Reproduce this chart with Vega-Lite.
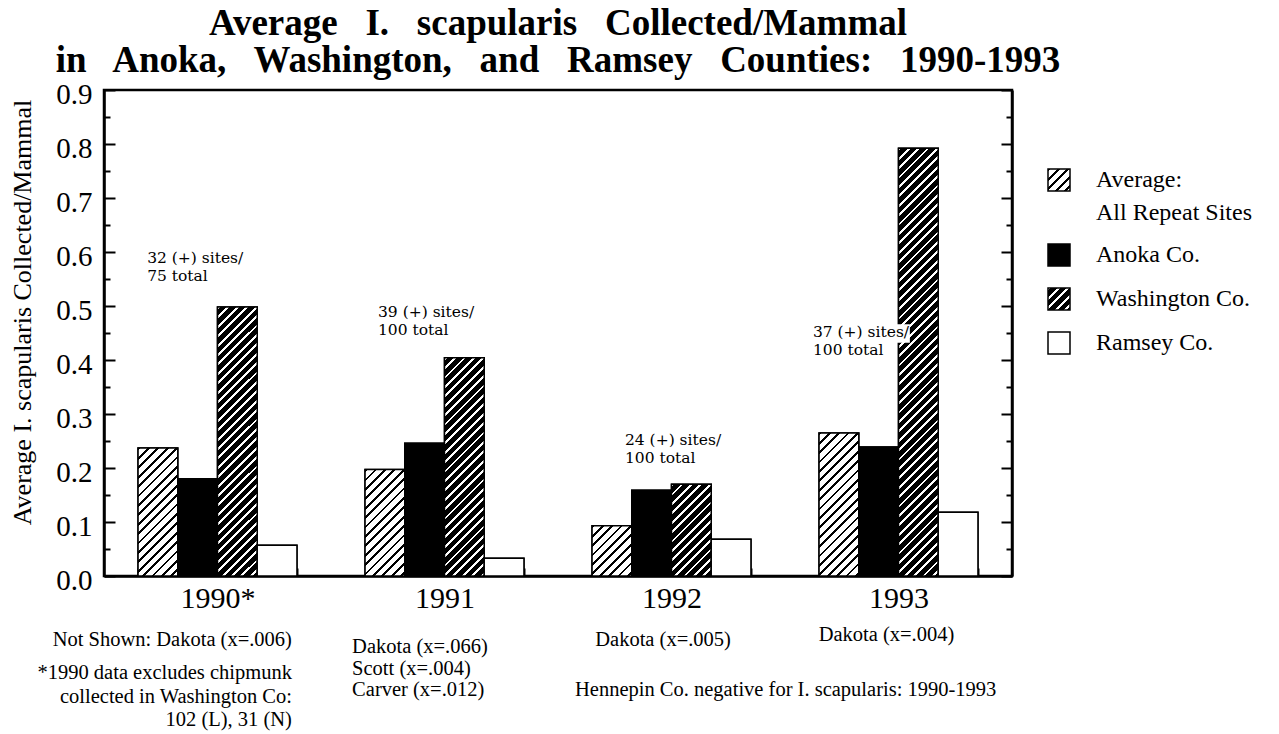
{
"$schema": "https://vega.github.io/schema/vega-lite/v6.json",
"width": 908,
"height": 486,
"autosize": {"type": "none"},
"padding": {"left": 104, "top": 90, "right": 267, "bottom": 158},
"background": "#ffffff",
"title": {"text": ["Average\u00a0\u00a0 I.\u00a0\u00a0 scapularis\u00a0\u00a0 Collected/Mammal", "in\u00a0\u00a0 Anoka,\u00a0\u00a0 Washington,\u00a0\u00a0 and\u00a0\u00a0 Ramsey\u00a0\u00a0 Counties:\u00a0\u00a0 1990-1993"], "font": "Liberation Serif", "fontSize": 37, "fontWeight": "bold", "lineHeight": 37, "anchor": "middle", "offset": 0, "color": "#000"},
"params": [
{"name": "hatchA", "value": [
{"offset":0,"color":"#000"},{"offset":0.006,"color":"#000"},{"offset":0.006,"color":"#fff"},{"offset":0.02,"color":"#fff"},
{"offset":0.02,"color":"#000"},{"offset":0.026,"color":"#000"},{"offset":0.026,"color":"#fff"},{"offset":0.04,"color":"#fff"},
{"offset":0.04,"color":"#000"},{"offset":0.046,"color":"#000"},{"offset":0.046,"color":"#fff"},{"offset":0.06,"color":"#fff"},
{"offset":0.06,"color":"#000"},{"offset":0.066,"color":"#000"},{"offset":0.066,"color":"#fff"},{"offset":0.08,"color":"#fff"},
{"offset":0.08,"color":"#000"},{"offset":0.086,"color":"#000"},{"offset":0.086,"color":"#fff"},{"offset":0.1,"color":"#fff"},
{"offset":0.1,"color":"#000"},{"offset":0.106,"color":"#000"},{"offset":0.106,"color":"#fff"},{"offset":0.12,"color":"#fff"},
{"offset":0.12,"color":"#000"},{"offset":0.126,"color":"#000"},{"offset":0.126,"color":"#fff"},{"offset":0.14,"color":"#fff"},
{"offset":0.14,"color":"#000"},{"offset":0.146,"color":"#000"},{"offset":0.146,"color":"#fff"},{"offset":0.16,"color":"#fff"},
{"offset":0.16,"color":"#000"},{"offset":0.166,"color":"#000"},{"offset":0.166,"color":"#fff"},{"offset":0.18,"color":"#fff"},
{"offset":0.18,"color":"#000"},{"offset":0.186,"color":"#000"},{"offset":0.186,"color":"#fff"},{"offset":0.2,"color":"#fff"},
{"offset":0.2,"color":"#000"},{"offset":0.206,"color":"#000"},{"offset":0.206,"color":"#fff"},{"offset":0.22,"color":"#fff"},
{"offset":0.22,"color":"#000"},{"offset":0.226,"color":"#000"},{"offset":0.226,"color":"#fff"},{"offset":0.24,"color":"#fff"},
{"offset":0.24,"color":"#000"},{"offset":0.246,"color":"#000"},{"offset":0.246,"color":"#fff"},{"offset":0.26,"color":"#fff"},
{"offset":0.26,"color":"#000"},{"offset":0.266,"color":"#000"},{"offset":0.266,"color":"#fff"},{"offset":0.28,"color":"#fff"},
{"offset":0.28,"color":"#000"},{"offset":0.286,"color":"#000"},{"offset":0.286,"color":"#fff"},{"offset":0.3,"color":"#fff"},
{"offset":0.3,"color":"#000"},{"offset":0.306,"color":"#000"},{"offset":0.306,"color":"#fff"},{"offset":0.32,"color":"#fff"},
{"offset":0.32,"color":"#000"},{"offset":0.326,"color":"#000"},{"offset":0.326,"color":"#fff"},{"offset":0.34,"color":"#fff"},
{"offset":0.34,"color":"#000"},{"offset":0.346,"color":"#000"},{"offset":0.346,"color":"#fff"},{"offset":0.36,"color":"#fff"},
{"offset":0.36,"color":"#000"},{"offset":0.366,"color":"#000"},{"offset":0.366,"color":"#fff"},{"offset":0.38,"color":"#fff"},
{"offset":0.38,"color":"#000"},{"offset":0.386,"color":"#000"},{"offset":0.386,"color":"#fff"},{"offset":0.4,"color":"#fff"},
{"offset":0.4,"color":"#000"},{"offset":0.406,"color":"#000"},{"offset":0.406,"color":"#fff"},{"offset":0.42,"color":"#fff"},
{"offset":0.42,"color":"#000"},{"offset":0.426,"color":"#000"},{"offset":0.426,"color":"#fff"},{"offset":0.44,"color":"#fff"},
{"offset":0.44,"color":"#000"},{"offset":0.446,"color":"#000"},{"offset":0.446,"color":"#fff"},{"offset":0.46,"color":"#fff"},
{"offset":0.46,"color":"#000"},{"offset":0.466,"color":"#000"},{"offset":0.466,"color":"#fff"},{"offset":0.48,"color":"#fff"},
{"offset":0.48,"color":"#000"},{"offset":0.486,"color":"#000"},{"offset":0.486,"color":"#fff"},{"offset":0.5,"color":"#fff"},
{"offset":0.5,"color":"#000"},{"offset":0.506,"color":"#000"},{"offset":0.506,"color":"#fff"},{"offset":0.52,"color":"#fff"},
{"offset":0.52,"color":"#000"},{"offset":0.526,"color":"#000"},{"offset":0.526,"color":"#fff"},{"offset":0.54,"color":"#fff"},
{"offset":0.54,"color":"#000"},{"offset":0.546,"color":"#000"},{"offset":0.546,"color":"#fff"},{"offset":0.56,"color":"#fff"},
{"offset":0.56,"color":"#000"},{"offset":0.566,"color":"#000"},{"offset":0.566,"color":"#fff"},{"offset":0.58,"color":"#fff"},
{"offset":0.58,"color":"#000"},{"offset":0.586,"color":"#000"},{"offset":0.586,"color":"#fff"},{"offset":0.6,"color":"#fff"},
{"offset":0.6,"color":"#000"},{"offset":0.606,"color":"#000"},{"offset":0.606,"color":"#fff"},{"offset":0.62,"color":"#fff"},
{"offset":0.62,"color":"#000"},{"offset":0.626,"color":"#000"},{"offset":0.626,"color":"#fff"},{"offset":0.64,"color":"#fff"},
{"offset":0.64,"color":"#000"},{"offset":0.646,"color":"#000"},{"offset":0.646,"color":"#fff"},{"offset":0.66,"color":"#fff"},
{"offset":0.66,"color":"#000"},{"offset":0.666,"color":"#000"},{"offset":0.666,"color":"#fff"},{"offset":0.68,"color":"#fff"},
{"offset":0.68,"color":"#000"},{"offset":0.686,"color":"#000"},{"offset":0.686,"color":"#fff"},{"offset":0.7,"color":"#fff"},
{"offset":0.7,"color":"#000"},{"offset":0.706,"color":"#000"},{"offset":0.706,"color":"#fff"},{"offset":0.72,"color":"#fff"},
{"offset":0.72,"color":"#000"},{"offset":0.726,"color":"#000"},{"offset":0.726,"color":"#fff"},{"offset":0.74,"color":"#fff"},
{"offset":0.74,"color":"#000"},{"offset":0.746,"color":"#000"},{"offset":0.746,"color":"#fff"},{"offset":0.76,"color":"#fff"},
{"offset":0.76,"color":"#000"},{"offset":0.766,"color":"#000"},{"offset":0.766,"color":"#fff"},{"offset":0.78,"color":"#fff"},
{"offset":0.78,"color":"#000"},{"offset":0.786,"color":"#000"},{"offset":0.786,"color":"#fff"},{"offset":0.8,"color":"#fff"},
{"offset":0.8,"color":"#000"},{"offset":0.806,"color":"#000"},{"offset":0.806,"color":"#fff"},{"offset":0.82,"color":"#fff"},
{"offset":0.82,"color":"#000"},{"offset":0.826,"color":"#000"},{"offset":0.826,"color":"#fff"},{"offset":0.84,"color":"#fff"},
{"offset":0.84,"color":"#000"},{"offset":0.846,"color":"#000"},{"offset":0.846,"color":"#fff"},{"offset":0.86,"color":"#fff"},
{"offset":0.86,"color":"#000"},{"offset":0.866,"color":"#000"},{"offset":0.866,"color":"#fff"},{"offset":0.88,"color":"#fff"},
{"offset":0.88,"color":"#000"},{"offset":0.886,"color":"#000"},{"offset":0.886,"color":"#fff"},{"offset":0.9,"color":"#fff"},
{"offset":0.9,"color":"#000"},{"offset":0.906,"color":"#000"},{"offset":0.906,"color":"#fff"},{"offset":0.92,"color":"#fff"},
{"offset":0.92,"color":"#000"},{"offset":0.926,"color":"#000"},{"offset":0.926,"color":"#fff"},{"offset":0.94,"color":"#fff"},
{"offset":0.94,"color":"#000"},{"offset":0.946,"color":"#000"},{"offset":0.946,"color":"#fff"},{"offset":0.96,"color":"#fff"},
{"offset":0.96,"color":"#000"},{"offset":0.966,"color":"#000"},{"offset":0.966,"color":"#fff"},{"offset":0.98,"color":"#fff"},
{"offset":0.98,"color":"#000"},{"offset":0.986,"color":"#000"},{"offset":0.986,"color":"#fff"},{"offset":1,"color":"#fff"}
]},
{"name": "hatchW", "value": [
{"offset":0,"color":"#fff"},{"offset":0.006,"color":"#fff"},{"offset":0.006,"color":"#000"},{"offset":0.02,"color":"#000"},
{"offset":0.02,"color":"#fff"},{"offset":0.026,"color":"#fff"},{"offset":0.026,"color":"#000"},{"offset":0.04,"color":"#000"},
{"offset":0.04,"color":"#fff"},{"offset":0.046,"color":"#fff"},{"offset":0.046,"color":"#000"},{"offset":0.06,"color":"#000"},
{"offset":0.06,"color":"#fff"},{"offset":0.066,"color":"#fff"},{"offset":0.066,"color":"#000"},{"offset":0.08,"color":"#000"},
{"offset":0.08,"color":"#fff"},{"offset":0.086,"color":"#fff"},{"offset":0.086,"color":"#000"},{"offset":0.1,"color":"#000"},
{"offset":0.1,"color":"#fff"},{"offset":0.106,"color":"#fff"},{"offset":0.106,"color":"#000"},{"offset":0.12,"color":"#000"},
{"offset":0.12,"color":"#fff"},{"offset":0.126,"color":"#fff"},{"offset":0.126,"color":"#000"},{"offset":0.14,"color":"#000"},
{"offset":0.14,"color":"#fff"},{"offset":0.146,"color":"#fff"},{"offset":0.146,"color":"#000"},{"offset":0.16,"color":"#000"},
{"offset":0.16,"color":"#fff"},{"offset":0.166,"color":"#fff"},{"offset":0.166,"color":"#000"},{"offset":0.18,"color":"#000"},
{"offset":0.18,"color":"#fff"},{"offset":0.186,"color":"#fff"},{"offset":0.186,"color":"#000"},{"offset":0.2,"color":"#000"},
{"offset":0.2,"color":"#fff"},{"offset":0.206,"color":"#fff"},{"offset":0.206,"color":"#000"},{"offset":0.22,"color":"#000"},
{"offset":0.22,"color":"#fff"},{"offset":0.226,"color":"#fff"},{"offset":0.226,"color":"#000"},{"offset":0.24,"color":"#000"},
{"offset":0.24,"color":"#fff"},{"offset":0.246,"color":"#fff"},{"offset":0.246,"color":"#000"},{"offset":0.26,"color":"#000"},
{"offset":0.26,"color":"#fff"},{"offset":0.266,"color":"#fff"},{"offset":0.266,"color":"#000"},{"offset":0.28,"color":"#000"},
{"offset":0.28,"color":"#fff"},{"offset":0.286,"color":"#fff"},{"offset":0.286,"color":"#000"},{"offset":0.3,"color":"#000"},
{"offset":0.3,"color":"#fff"},{"offset":0.306,"color":"#fff"},{"offset":0.306,"color":"#000"},{"offset":0.32,"color":"#000"},
{"offset":0.32,"color":"#fff"},{"offset":0.326,"color":"#fff"},{"offset":0.326,"color":"#000"},{"offset":0.34,"color":"#000"},
{"offset":0.34,"color":"#fff"},{"offset":0.346,"color":"#fff"},{"offset":0.346,"color":"#000"},{"offset":0.36,"color":"#000"},
{"offset":0.36,"color":"#fff"},{"offset":0.366,"color":"#fff"},{"offset":0.366,"color":"#000"},{"offset":0.38,"color":"#000"},
{"offset":0.38,"color":"#fff"},{"offset":0.386,"color":"#fff"},{"offset":0.386,"color":"#000"},{"offset":0.4,"color":"#000"},
{"offset":0.4,"color":"#fff"},{"offset":0.406,"color":"#fff"},{"offset":0.406,"color":"#000"},{"offset":0.42,"color":"#000"},
{"offset":0.42,"color":"#fff"},{"offset":0.426,"color":"#fff"},{"offset":0.426,"color":"#000"},{"offset":0.44,"color":"#000"},
{"offset":0.44,"color":"#fff"},{"offset":0.446,"color":"#fff"},{"offset":0.446,"color":"#000"},{"offset":0.46,"color":"#000"},
{"offset":0.46,"color":"#fff"},{"offset":0.466,"color":"#fff"},{"offset":0.466,"color":"#000"},{"offset":0.48,"color":"#000"},
{"offset":0.48,"color":"#fff"},{"offset":0.486,"color":"#fff"},{"offset":0.486,"color":"#000"},{"offset":0.5,"color":"#000"},
{"offset":0.5,"color":"#fff"},{"offset":0.506,"color":"#fff"},{"offset":0.506,"color":"#000"},{"offset":0.52,"color":"#000"},
{"offset":0.52,"color":"#fff"},{"offset":0.526,"color":"#fff"},{"offset":0.526,"color":"#000"},{"offset":0.54,"color":"#000"},
{"offset":0.54,"color":"#fff"},{"offset":0.546,"color":"#fff"},{"offset":0.546,"color":"#000"},{"offset":0.56,"color":"#000"},
{"offset":0.56,"color":"#fff"},{"offset":0.566,"color":"#fff"},{"offset":0.566,"color":"#000"},{"offset":0.58,"color":"#000"},
{"offset":0.58,"color":"#fff"},{"offset":0.586,"color":"#fff"},{"offset":0.586,"color":"#000"},{"offset":0.6,"color":"#000"},
{"offset":0.6,"color":"#fff"},{"offset":0.606,"color":"#fff"},{"offset":0.606,"color":"#000"},{"offset":0.62,"color":"#000"},
{"offset":0.62,"color":"#fff"},{"offset":0.626,"color":"#fff"},{"offset":0.626,"color":"#000"},{"offset":0.64,"color":"#000"},
{"offset":0.64,"color":"#fff"},{"offset":0.646,"color":"#fff"},{"offset":0.646,"color":"#000"},{"offset":0.66,"color":"#000"},
{"offset":0.66,"color":"#fff"},{"offset":0.666,"color":"#fff"},{"offset":0.666,"color":"#000"},{"offset":0.68,"color":"#000"},
{"offset":0.68,"color":"#fff"},{"offset":0.686,"color":"#fff"},{"offset":0.686,"color":"#000"},{"offset":0.7,"color":"#000"},
{"offset":0.7,"color":"#fff"},{"offset":0.706,"color":"#fff"},{"offset":0.706,"color":"#000"},{"offset":0.72,"color":"#000"},
{"offset":0.72,"color":"#fff"},{"offset":0.726,"color":"#fff"},{"offset":0.726,"color":"#000"},{"offset":0.74,"color":"#000"},
{"offset":0.74,"color":"#fff"},{"offset":0.746,"color":"#fff"},{"offset":0.746,"color":"#000"},{"offset":0.76,"color":"#000"},
{"offset":0.76,"color":"#fff"},{"offset":0.766,"color":"#fff"},{"offset":0.766,"color":"#000"},{"offset":0.78,"color":"#000"},
{"offset":0.78,"color":"#fff"},{"offset":0.786,"color":"#fff"},{"offset":0.786,"color":"#000"},{"offset":0.8,"color":"#000"},
{"offset":0.8,"color":"#fff"},{"offset":0.806,"color":"#fff"},{"offset":0.806,"color":"#000"},{"offset":0.82,"color":"#000"},
{"offset":0.82,"color":"#fff"},{"offset":0.826,"color":"#fff"},{"offset":0.826,"color":"#000"},{"offset":0.84,"color":"#000"},
{"offset":0.84,"color":"#fff"},{"offset":0.846,"color":"#fff"},{"offset":0.846,"color":"#000"},{"offset":0.86,"color":"#000"},
{"offset":0.86,"color":"#fff"},{"offset":0.866,"color":"#fff"},{"offset":0.866,"color":"#000"},{"offset":0.88,"color":"#000"},
{"offset":0.88,"color":"#fff"},{"offset":0.886,"color":"#fff"},{"offset":0.886,"color":"#000"},{"offset":0.9,"color":"#000"},
{"offset":0.9,"color":"#fff"},{"offset":0.906,"color":"#fff"},{"offset":0.906,"color":"#000"},{"offset":0.92,"color":"#000"},
{"offset":0.92,"color":"#fff"},{"offset":0.926,"color":"#fff"},{"offset":0.926,"color":"#000"},{"offset":0.94,"color":"#000"},
{"offset":0.94,"color":"#fff"},{"offset":0.946,"color":"#fff"},{"offset":0.946,"color":"#000"},{"offset":0.96,"color":"#000"},
{"offset":0.96,"color":"#fff"},{"offset":0.966,"color":"#fff"},{"offset":0.966,"color":"#000"},{"offset":0.98,"color":"#000"},
{"offset":0.98,"color":"#fff"},{"offset":0.986,"color":"#fff"},{"offset":0.986,"color":"#000"},{"offset":1,"color":"#000"}
]}
],
"datasets": {
"bars": [
{"year": "1990*", "series": "Average", "value": 0.237},
{"year": "1990*", "series": "Anoka Co.", "value": 0.18},
{"year": "1990*", "series": "Washington Co.", "value": 0.498},
{"year": "1990*", "series": "Ramsey Co.", "value": 0.057},
{"year": "1991", "series": "Average", "value": 0.197},
{"year": "1991", "series": "Anoka Co.", "value": 0.246},
{"year": "1991", "series": "Washington Co.", "value": 0.404},
{"year": "1991", "series": "Ramsey Co.", "value": 0.033},
{"year": "1992", "series": "Average", "value": 0.093},
{"year": "1992", "series": "Anoka Co.", "value": 0.159},
{"year": "1992", "series": "Washington Co.", "value": 0.17},
{"year": "1992", "series": "Ramsey Co.", "value": 0.068},
{"year": "1993", "series": "Average", "value": 0.265},
{"year": "1993", "series": "Anoka Co.", "value": 0.239},
{"year": "1993", "series": "Washington Co.", "value": 0.792},
{"year": "1993", "series": "Ramsey Co.", "value": 0.118}
],
"notes": [
{"g": "in", "p": 0.19, "v": 0.588, "t": "32 (+) sites/"},
{"g": "in", "p": 0.19, "v": 0.555, "t": "75 total"},
{"g": "in", "p": 1.207, "v": 0.489, "t": "39 (+) sites/"},
{"g": "in", "p": 1.207, "v": 0.456, "t": "100 total"},
{"g": "in", "p": 2.295, "v": 0.252, "t": "24 (+) sites/"},
{"g": "in", "p": 2.295, "v": 0.219, "t": "100 total"},
{"g": "in", "p": 3.123, "v": 0.452, "t": "37 (+) sites/"},
{"g": "in", "p": 3.123, "v": 0.419, "t": "100 total"},
{"g": "r", "p": 0.828, "v": -0.1185, "t": "Not Shown: Dakota (x=.006)"},
{"g": "r", "p": 0.828, "v": -0.1796, "t": "*1990 data excludes chipmunk"},
{"g": "r", "p": 0.828, "v": -0.224, "t": "collected in Washington Co:"},
{"g": "r", "p": 0.828, "v": -0.2667, "t": "102 (L), 31 (N)"},
{"g": "l", "p": 1.093, "v": -0.1315, "t": "Dakota (x=.066)"},
{"g": "l", "p": 1.093, "v": -0.172, "t": "Scott (x=.004)"},
{"g": "l", "p": 1.093, "v": -0.211, "t": "Carver (x=.012)"},
{"g": "l", "p": 2.075, "v": -0.211, "t": "Hennepin Co. negative for I. scapularis: 1990-1993"},
{"g": "c", "p": 2.463, "v": -0.1185, "t": "Dakota (x=.005)"},
{"g": "c", "p": 3.447, "v": -0.109, "t": "Dakota (x=.004)"}
],
"boxes": [
{"p": 3.12, "p2": 3.55, "v": 0.432, "v2": 0.466}
]
},
"layer": [
{
"data": {"name": "bars"},
"mark": {"type": "bar", "stroke": "#000", "strokeWidth": 1.5},
"encoding": {
"x": {"field": "year", "type": "nominal", "sort": null, "scale": {"paddingInner": 0.3, "paddingOuter": 0.15},
"axis": {"title": null, "labelAngle": 0, "labelFont": "Liberation Serif", "labelFontSize": 30, "labelPadding": 15, "labelBaseline": "top", "labelColor": "#000", "tickBand": "extent", "tickSize": -8, "tickWidth": 2, "tickColor": "#000", "domainColor": "#000", "domainWidth": 2.5, "grid": false}},
"xOffset": {"field": "series", "type": "nominal", "sort": ["Average", "Anoka Co.", "Washington Co.", "Ramsey Co."], "scale": {"paddingInner": 0, "paddingOuter": 0}},
"y": {"field": "value", "type": "quantitative", "scale": {"domain": [0, 0.9], "nice": false},
"axis": {"orient": "left", "values": [0,0.05,0.1,0.15,0.2,0.25,0.3,0.35,0.4,0.45,0.5,0.55,0.6,0.65,0.7,0.75,0.8,0.85,0.9],
"tickSize": {"condition": {"test": "round(datum.value*100) % 10 !== 0", "value": -6}, "value": -11},
"tickWidth": 2, "tickColor": "#000", "domainColor": "#000", "domainWidth": 2.5, "grid": false,
"labelExpr": "round(datum.value*100) % 10 === 0 ? format(datum.value, '.1f') : ''",
"labelFont": "Liberation Serif", "labelFontSize": 29, "labelColor": "#000", "labelPadding": 23, "labelBaseline": "middle", "labelOffset": 4, "labelFlush": false, "labelOverlap": false,
"title": "Average I. scapularis Collected/Mammal", "titleFont": "Liberation Serif", "titleFontSize": 26, "titleFontWeight": "normal", "titleColor": "#000", "titleX": -82, "titleY": 222, "titleAlign": "center", "titleBaseline": "middle", "titleAngle": -90}},
"fill": {"field": "series", "type": "nominal", "scale": {"domain": ["Average", "Anoka Co.", "Washington Co.", "Ramsey Co."],
"range": [{"expr": "{gradient: 'linear', x1: 0, y1: 0, x2: 10.7, y2: 10.7, stops: hatchA}"}, "#000000", {"expr": "{gradient: 'linear', x1: 0, y1: 0, x2: 10.7, y2: 10.7, stops: hatchW}"}, "#ffffff"]},
"legend": {"title": null, "orient": "none", "legendX": 943, "legendY": 78, "direction": "vertical", "symbolType": "square", "symbolSize": 484, "symbolStrokeColor": "#000", "symbolStrokeWidth": 1.5, "symbolOpacity": 1,
"labelFont": "Liberation Serif", "labelFontSize": 24, "labelColor": "#000", "labelOffset": 25, "labelLimit": 400, "rowPadding": 16, "padding": 0,
"labelExpr": "datum.value === 'Average' ? ['Average:', 'All Repeat Sites'] : datum.value",
"encode": {
"symbols": {"update": {"stroke": {"value": "#000"}, "strokeWidth": {"value": 1.5}, "opacity": {"value": 1}}},
"labels": {"update": {"lineHeight": {"value": 33}}}
}}}
}
},
{
"data": {"name": "bars"},
"mark": {"type": "bar", "stroke": "#000", "strokeWidth": 1.5,
"fill": {"expr": "datum.series === 'Anoka Co.' ? '#000' : datum.series === 'Ramsey Co.' ? '#fff' : {gradient: 'linear', x1: 0, y1: 0, x2: 470*39.7/(1576.1 + pow(datum.value*540, 2)), y2: 470*datum.value*540/(1576.1 + pow(datum.value*540, 2)), stops: datum.series === 'Average' ? hatchA : hatchW}"}},
"encoding": {
"x": {"field": "year", "type": "nominal", "sort": null, "scale": {"paddingInner": 0.3, "paddingOuter": 0.15}, "axis": null},
"xOffset": {"field": "series", "type": "nominal", "sort": ["Average", "Anoka Co.", "Washington Co.", "Ramsey Co."], "scale": {"paddingInner": 0, "paddingOuter": 0}},
"y": {"field": "value", "type": "quantitative", "scale": {"domain": [0, 0.9], "nice": false}, "axis": null}
}
},
{
"data": {"name": "boxes"},
"mark": {"type": "rect", "fill": "#fff"},
"encoding": {
"x": {"field": "p", "type": "quantitative", "scale": {"domain": [0, 4], "nice": false, "zero": false}, "axis": null},
"x2": {"field": "p2"},
"y": {"field": "v", "type": "quantitative", "scale": {"domain": [0, 0.9], "nice": false}, "axis": null},
"y2": {"field": "v2"}
}
},
{
"data": {"name": "notes"},
"transform": [{"filter": "datum.g === 'in'"}],
"mark": {"type": "text", "align": "left", "baseline": "middle", "font": "DejaVu Serif", "fontSize": 15.5, "color": "#000"},
"encoding": {
"x": {"field": "p", "type": "quantitative", "scale": {"domain": [0, 4], "nice": false, "zero": false}, "axis": null},
"y": {"field": "v", "type": "quantitative", "scale": {"domain": [0, 0.9], "nice": false},
"axis": {"orient": "right", "values": [0,0.05,0.1,0.15,0.2,0.25,0.3,0.35,0.4,0.45,0.5,0.55,0.6,0.65,0.7,0.75,0.8,0.85,0.9],
"tickSize": {"condition": {"test": "round(datum.value*100) % 10 !== 0", "value": -6}, "value": -11},
"tickWidth": 2, "tickColor": "#000", "domainColor": "#000", "domainWidth": 2.5, "labels": false, "title": null, "grid": false}},
"text": {"field": "t"}
}
},
{
"data": {"name": "notes"},
"transform": [{"filter": "datum.g === 'r'"}],
"mark": {"type": "text", "align": "right", "baseline": "middle", "font": "Liberation Serif", "fontSize": 20.5, "color": "#000"},
"encoding": {
"x": {"field": "p", "type": "quantitative", "scale": {"domain": [0, 4], "nice": false, "zero": false}, "axis": null},
"y": {"field": "v", "type": "quantitative", "scale": {"domain": [0, 0.9], "nice": false}, "axis": null},
"text": {"field": "t"}
}
},
{
"data": {"name": "notes"},
"transform": [{"filter": "datum.g === 'l'"}],
"mark": {"type": "text", "align": "left", "baseline": "middle", "font": "Liberation Serif", "fontSize": 20.5, "color": "#000"},
"encoding": {
"x": {"field": "p", "type": "quantitative", "scale": {"domain": [0, 4], "nice": false, "zero": false}, "axis": null},
"y": {"field": "v", "type": "quantitative", "scale": {"domain": [0, 0.9], "nice": false}, "axis": null},
"text": {"field": "t"}
}
},
{
"data": {"name": "notes"},
"transform": [{"filter": "datum.g === 'c'"}],
"mark": {"type": "text", "align": "center", "baseline": "middle", "font": "Liberation Serif", "fontSize": 20.5, "color": "#000"},
"encoding": {
"x": {"field": "p", "type": "quantitative", "scale": {"domain": [0, 4], "nice": false, "zero": false}, "axis": null},
"y": {"field": "v", "type": "quantitative", "scale": {"domain": [0, 0.9], "nice": false}, "axis": null},
"text": {"field": "t"}
}
}
],
"resolve": {"scale": {"x": "independent"}, "axis": {"x": "independent", "y": "independent"}},
"config": {
"font": "Liberation Serif",
"view": {"stroke": "#000", "strokeWidth": 2.5},
"axis": {"grid": false}
}
}
